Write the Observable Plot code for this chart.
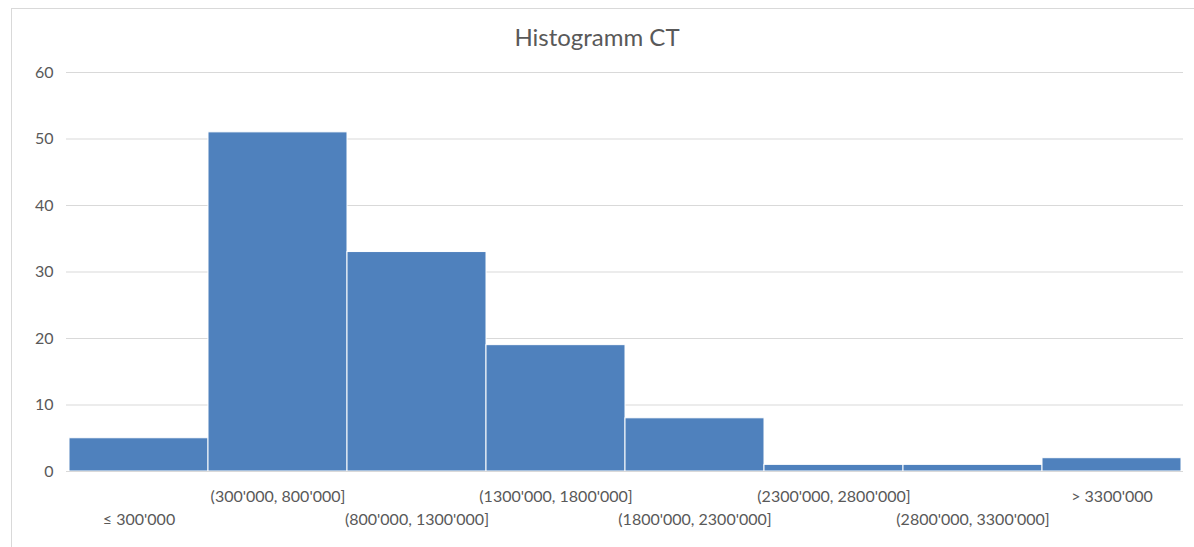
<!DOCTYPE html>
<html>
<head>
<meta charset="utf-8">
<script src="https://cdn.jsdelivr.net/npm/d3@7"></script>
<script src="https://cdn.jsdelivr.net/npm/@observablehq/plot@0.6"></script>
<style>
  html, body { margin: 0; padding: 0; background: #fff; }
  #wrap { position: relative; width: 1194px; height: 547px; overflow: hidden; font-family: Lato, "Open Sans", sans-serif; }
  #frame { position: absolute; left: 11px; top: 8px; width: 1200px; height: 600px; border-left: 1px solid #d9d9d9; border-top: 1px solid #d9d9d9; }
  #title { position: absolute; left: 0; top: 0; width: 1194px; height: 60px; text-align: center; line-height: 74px; font-size: 24px; color: #595959; }
  #chart { position: absolute; left: 0; top: 60px; }
</style>
</head>
<body>
<div id="wrap">
  <div id="frame"></div>
  <div id="title">Histogramm CT</div>
  <div id="chart"></div>
</div>
<script>
const categories = ["≤ 300'000", "(300'000, 800'000]", "(800'000, 1300'000]", "(1300'000, 1800'000]", "(1800'000, 2300'000]", "(2300'000, 2800'000]", "(2800'000, 3300'000]", "> 3300'000"];
const counts = [5, 51, 33, 19, 8, 1, 1, 2];
const yTicks = [0, 10, 20, 30, 40, 50, 60];

const data = categories.map((c, i) => ({category: c, count: counts[i], row: i % 2 === 1 ? 0 : 1}));

const chart = Plot.plot({
  width: 1194,
  height: 487,
  marginTop: 12,
  marginBottom: 76,
  marginLeft: 66,
  marginRight: 11,
  style: {fontFamily: "Lato, 'Open Sans', sans-serif", fontSize: "16px", color: "#595959", background: "transparent"},
  x: {domain: categories, padding: 0, axis: null},
  y: {domain: [0, 60], ticks: yTicks, label: null},
  marks: [
    Plot.gridY(yTicks, {stroke: "#d9d9d9", strokeOpacity: 1}),
    Plot.axisY(yTicks, {tickSize: 0, tickPadding: 13, fontSize: 16, label: null, fill: "#595959"}),
    Plot.barY(data, {x: "category", y: "count", fill: "#4f81bd", stroke: "white", strokeWidth: 1, inset: 0}),
    Plot.ruleY([0], {stroke: "#d9d9d9"}),
    Plot.text(data.filter(d => d.row === 0), {x: "category", y: 0, text: "category", dy: 25, fill: "#595959", fontSize: 16}),
    Plot.text(data.filter(d => d.row === 1), {x: "category", y: 0, text: "category", dy: 48, fill: "#595959", fontSize: 16})
  ]
});
document.getElementById("chart").appendChild(chart);
</script>
</body>
</html>
